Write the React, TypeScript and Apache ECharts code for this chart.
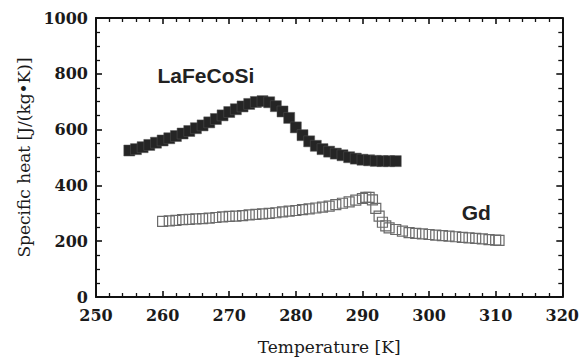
import React, { useEffect, useRef } from "react";
import * as echarts from "echarts";

const laTemps = [255, 256, 257, 258, 259, 260, 261, 262, 263, 264, 265, 266, 267, 268, 269, 270, 271, 272, 273, 274, 275, 276, 277, 278, 279, 280, 281, 282, 283, 284, 285, 286, 287, 288, 289, 290, 291, 292, 293, 294, 295];
const laHeat = [525, 530, 537, 545, 553, 561, 569, 577, 586, 595, 605, 615, 626, 638, 651, 663, 673, 683, 692, 699, 702, 698, 684, 665, 642, 608, 580, 558, 542, 530, 521, 514, 508, 501, 496, 492, 490, 488, 487, 487, 487];

const gdTemps = [260, 261, 262, 263, 264, 265, 266, 267, 268, 269, 270, 271, 272, 273, 274, 275, 276, 277, 278, 279, 280, 281, 282, 283, 284, 285, 286, 287, 288, 289, 290, 290.5, 291, 291.5, 292, 292.5, 293, 293.5, 294, 295, 296, 297, 298, 299, 300, 301, 302, 303, 304, 305, 306, 307, 308, 309, 310, 310.5];
const gdHeat = [271, 273, 275, 277, 278, 280, 281, 283, 285, 287, 289, 290, 292, 294, 296, 298, 300, 302, 305, 308, 310, 313, 316, 319, 322, 326, 331, 336, 341, 347, 353, 357, 357, 348, 318, 290, 268, 255, 248, 242, 236, 231, 228, 226, 224, 222, 220, 218, 216, 214, 212, 210, 208, 206, 204, 203];

const xTicks = { min: 250, max: 320, step: 10 };
const yTicks = { min: 0, max: 1000, step: 200 };

const seriesNames = ["LaFeCoSi", "Gd"];
const labelCoords: [number, number][] = [[266.5, 793], [307.1, 304]];

const serif = "DejaVu Serif";
const sans = "Liberation Sans";

export default function App() {
  const ref = useRef<HTMLDivElement>(null);
  useEffect(() => {
    if (!ref.current) return;
    const chart = echarts.init(ref.current, null, { renderer: "svg" });
    const axisColor = "#111111";
    const labelStyle = { fontFamily: serif, fontSize: 16, fontWeight: "bold", color: "#1a1a1a" };
    const mkAxis = (isX: boolean, position: string, showLabel: boolean) => ({
      type: "value",
      position,
      min: isX ? xTicks.min : yTicks.min,
      max: isX ? xTicks.max : yTicks.max,
      interval: isX ? xTicks.step : yTicks.step,
      axisLine: { show: true, onZero: false, lineStyle: { color: axisColor, width: 2 } },
      axisTick: { show: true, inside: true, length: 6, lineStyle: { color: axisColor, width: 1.6 } },
      minorTick: { show: true, splitNumber: isX ? 5 : 4, length: 4, lineStyle: { color: axisColor, width: 1.3 } },
      splitLine: { show: false },
      axisLabel: showLabel
        ? { show: true, ...labelStyle, margin: isX ? 10 : 8, formatter: (v: number) => String(v) }
        : { show: false },
    });
    chart.setOption({
      animation: false,
      grid: { left: 96, right: 18, top: 18, bottom: 66 },
      xAxis: [
        {
          ...mkAxis(true, "bottom", true),
          name: "Temperature [K]",
          nameLocation: "middle",
          nameGap: 41,
          nameTextStyle: { fontFamily: serif, fontSize: 17, color: "#1a1a1a" },
        },
        mkAxis(true, "top", false),
      ],
      yAxis: [
        {
          ...mkAxis(false, "left", true),
          name: "Specific heat [J/(kg•K)]",
          nameLocation: "middle",
          nameGap: 58,
          nameTextStyle: { fontFamily: serif, fontSize: 17, color: "#1a1a1a" },
        },
        mkAxis(false, "right", false),
      ],
      series: [
        {
          name: seriesNames[0],
          type: "scatter",
          symbol: "rect",
          symbolSize: 11,
          itemStyle: { color: "#252525", borderColor: "#555", borderWidth: 0.5, opacity: 1 },
          data: laTemps.map((t, i) => [t, laHeat[i]]),
          markPoint: {
            symbol: "rect",
            symbolSize: 1,
            itemStyle: { color: "transparent" },
            label: { show: true, position: "inside", formatter: seriesNames[0], fontFamily: sans, fontWeight: "bold", fontSize: 21, color: "#222" },
            data: [{ coord: labelCoords[0] }],
          },
        },
        {
          name: seriesNames[1],
          type: "scatter",
          symbol: "rect",
          symbolSize: 10,
          itemStyle: { color: "transparent", borderColor: "#6a6a6a", borderWidth: 1.2, opacity: 1 },
          data: gdTemps.map((t, i) => [t, gdHeat[i]]),
          markPoint: {
            symbol: "rect",
            symbolSize: 1,
            itemStyle: { color: "transparent" },
            label: { show: true, position: "inside", formatter: seriesNames[1], fontFamily: sans, fontWeight: "bold", fontSize: 21, color: "#222" },
            data: [{ coord: labelCoords[1] }],
          },
        },
      ],
    });
    return () => chart.dispose();
  }, []);
  return <div ref={ref} style={{ position: "absolute", left: 0, top: 0, width: 582, height: 363 }} />;
}
